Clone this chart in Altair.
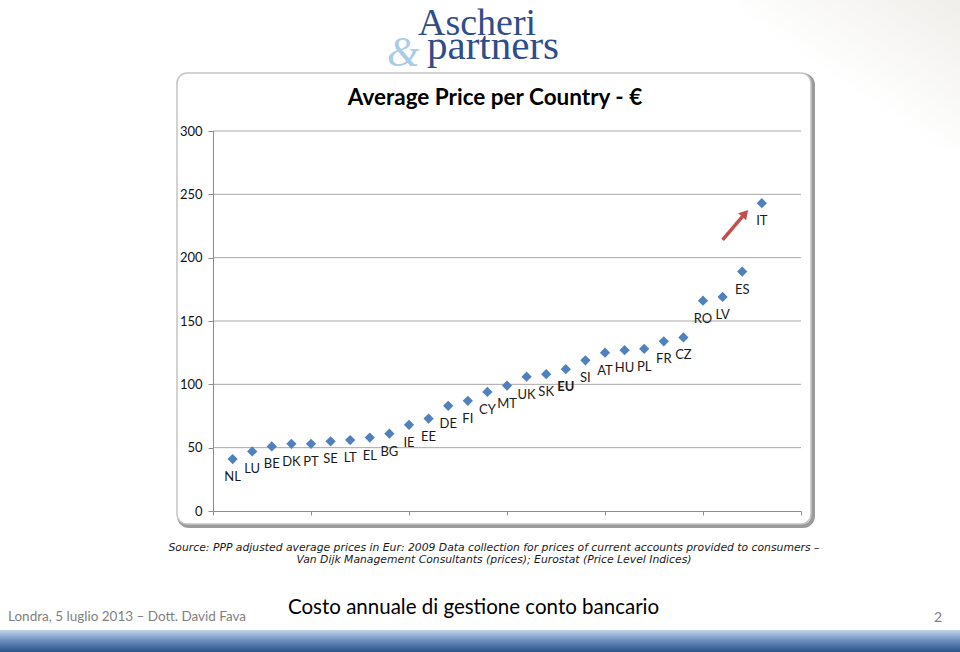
import altair as alt
import pandas as pd

# ---- data ----
countries = ["NL", "LU", "BE", "DK", "PT", "SE", "LT", "EL", "BG", "IE", "EE", "DE", "FI", "CY",
             "MT", "UK", "SK", "EU", "SI", "AT", "HU", "PL", "FR", "CZ", "RO", "LV", "ES", "IT"]
prices = [41, 47, 51, 53, 53, 55, 56, 58, 61, 68, 73, 83, 87, 94,
          99, 106, 108, 112, 119, 125, 127, 128, 134, 137, 166, 169, 189, 243]
rank = list(range(1, len(countries) + 1))
y_ticks = [0, 50, 100, 150, 200, 250, 300]
x_ticks = [0, 5, 10, 15, 20, 25, 30]
grid_values = [50, 100, 150, 200, 250, 300]
arrow_from = {"x": 26.0, "y": 214}
arrow_to = {"x": 27.15, "y": 235}

title_text = "Average Price per Country - \u20ac"
source_lines = [
    "Source: PPP adjusted average prices in Eur: 2009 Data collection for prices of current accounts provided to consumers \u2013",
    "Van Dijk Management Consultants (prices); Eurostat (Price Level Indices)",
]
footer_left = "Londra, 5 luglio 2013 \u2013 Dott. David Fava"
footer_center = "Costo annuale di gestione conto bancario"
page_number = "2"

df = pd.DataFrame({"rank": rank, "country": countries, "price": prices})
grid_df = pd.DataFrame({"v": grid_values})
arrow_df = pd.DataFrame([{"x": arrow_from["x"], "y": arrow_from["y"],
                          "x2": arrow_to["x"], "y2": arrow_to["y"]}])
one = pd.DataFrame({"a": [0]})

W, H = 588, 380
xs = alt.Scale(domain=[0, 30], nice=False, zero=True)
ys = alt.Scale(domain=[0, 300], nice=False)

FONT = "Lato"

yaxis = alt.Axis(values=y_ticks, title=None, grid=False, domainColor="#8c8c8c",
                 tickColor="#8c8c8c", tickSize=5, labelPadding=6,
                 labelFont=FONT, labelFontSize=13, labelColor="#111111", zindex=1)
xaxis = alt.Axis(values=x_ticks, labels=False, title=None, grid=False,
                 domainColor="#8c8c8c", tickColor="#8c8c8c", tickSize=4, zindex=1)

# decorations (pixel positions relative to plot origin)
top_shade = alt.Chart(one).mark_rect(
    color=alt.LinearGradient(gradient="linear",
                             stops=[alt.GradientStop(offset=0, color="#ffffff"),
                                    alt.GradientStop(offset=0.45, color="#ffffff"),
                                    alt.GradientStop(offset=1, color="#efeeea")],
                             x1=0, x2=1, y1=1, y2=0)
).encode(x=alt.value(527), x2=alt.value(747), y=alt.value(-131), y2=alt.value(20))

frame_shadow = alt.Chart(one).mark_rect(
    cornerRadius=10, fill="none", stroke="#9a9a9a", strokeWidth=4
).encode(x=alt.value(-34), x2=alt.value(600), y=alt.value(-56), y2=alt.value(395))

frame = alt.Chart(one).mark_rect(
    cornerRadius=10, fill="white", stroke="#c4c4c4", strokeWidth=1.5
).encode(x=alt.value(-36), x2=alt.value(598), y=alt.value(-58), y2=alt.value(393))

grid = alt.Chart(grid_df).mark_rule(color="#a8a8a8", strokeWidth=1).encode(
    y=alt.Y("v:Q", scale=ys, axis=yaxis),
    x=alt.value(0), x2=alt.value(W),
)

points = alt.Chart(df).mark_point(
    shape="diamond", filled=True, size=105, color="#4f81bd", opacity=1
).encode(
    x=alt.X("rank:Q", scale=xs, axis=xaxis),
    y=alt.Y("price:Q", scale=ys, axis=yaxis),
)

labels = alt.Chart(df).transform_filter(alt.datum.country != "EU").mark_text(
    font=FONT, fontSize=13, color="#1a1a1a", dy=18
).encode(x=alt.X("rank:Q", scale=xs, axis=xaxis), y=alt.Y("price:Q", scale=ys, axis=yaxis),
         text="country:N")

labels_eu = alt.Chart(df).transform_filter(alt.datum.country == "EU").mark_text(
    font=FONT, fontSize=13, fontWeight="bold", color="#1a1a1a", dy=18
).encode(x=alt.X("rank:Q", scale=xs, axis=xaxis), y=alt.Y("price:Q", scale=ys, axis=yaxis),
         text="country:N")

arrow_line = alt.Chart(arrow_df).mark_rule(color="#c0504d", strokeWidth=3.5).encode(
    x=alt.X("x:Q", scale=xs, axis=xaxis), y=alt.Y("y:Q", scale=ys, axis=yaxis),
    x2="x2:Q", y2="y2:Q")
arrow_head = alt.Chart(arrow_df).mark_point(
    shape="triangle-up", filled=True, size=110, color="#c0504d", angle=41, opacity=1
).encode(x=alt.X("x2:Q", scale=xs, axis=xaxis), y=alt.Y("y2:Q", scale=ys, axis=yaxis))

def txt(text, x, y, **kw):
    return alt.Chart(one).mark_text(text=text, **kw).encode(x=alt.value(x), y=alt.value(y))

title = txt(title_text, 282, -33, font=FONT, fontSize=22.5, fontWeight="bold",
            color="#000000", align="center", baseline="middle")
src1 = txt(source_lines[0], 281, 417, font="DejaVu Sans", fontSize=10.8, fontStyle="italic",
           color="#1a1a1a", align="center", baseline="middle")
src2 = txt(source_lines[1], 281, 429, font="DejaVu Sans", fontSize=10.8, fontStyle="italic",
           color="#1a1a1a", align="center", baseline="middle")
foot_l = txt(footer_left, -205, 486, font=FONT, fontSize=13.5, color="#7f7f7f",
             align="left", baseline="middle")
foot_c = txt(footer_center, 75, 477, font=FONT, fontSize=20.5, color="#000000",
             align="left", baseline="middle")
foot_n = txt(page_number, 725, 487, font=FONT, fontSize=14, color="#7f7f7f",
             align="center", baseline="middle")

logo1 = txt("Ascheri", 205, -96, font="Liberation Serif", fontSize=38, color="#2f4d8a",
            align="left", baseline="alphabetic")
logo_amp = txt("&", 174, -65, font="Liberation Serif", fontSize=42, fontStyle="italic",
               color="#a9cde6", align="left", baseline="alphabetic")
logo2 = txt("partners", 214, -72, font="Liberation Serif", fontSize=41, color="#2f4d8a",
            align="left", baseline="alphabetic")

bottom_bar = alt.Chart(one).mark_rect(
    color=alt.LinearGradient(gradient="linear",
                             stops=[alt.GradientStop(offset=0, color="#c3d5ea"),
                                    alt.GradientStop(offset=0.45, color="#6f93c0"),
                                    alt.GradientStop(offset=1, color="#2b528a")],
                             x1=0, x2=0, y1=0, y2=1)
).encode(x=alt.value(-213), x2=alt.value(747), y=alt.value(499), y2=alt.value(521))

chart = alt.layer(
    top_shade, frame_shadow, frame, grid, points, labels, labels_eu, arrow_line, arrow_head,
    title, src1, src2, foot_l, foot_c, foot_n, logo_amp, logo1, logo2, bottom_bar
).properties(
    width=W, height=H,
    padding={"left": 213, "top": 131, "right": 159, "bottom": 141},
    autosize=alt.AutoSizeParams(type="none"),
    background="white",
).configure_view(stroke=None)

chart.save("out.html", embed_options={"renderer": "svg", "actions": False})
